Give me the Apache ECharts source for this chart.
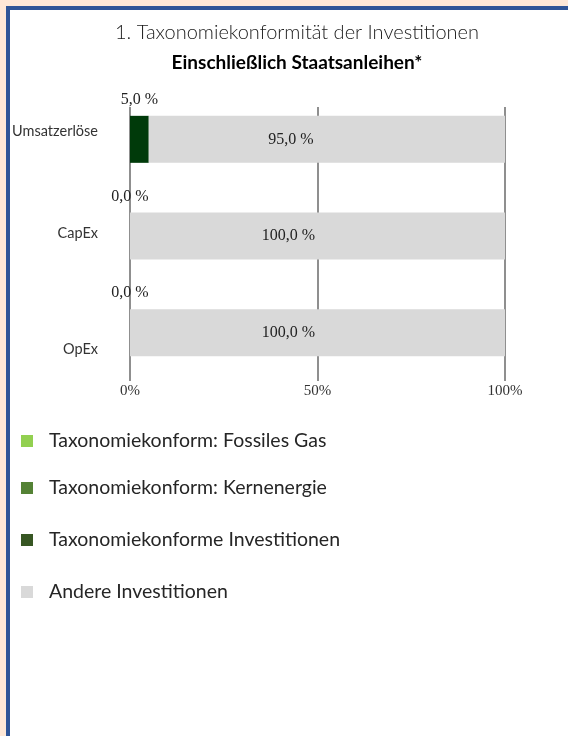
<!DOCTYPE html>
<html>
<head>
<meta charset="utf-8">
<script src="https://cdn.jsdelivr.net/npm/echarts@6/dist/echarts.min.js"></script>
<style>
html,body{margin:0;padding:0;background:#fff;}
#peachL{position:absolute;left:0;top:0;width:6px;height:736px;background:#fee8d7;}
#peachT{position:absolute;left:0;top:0;width:568px;height:6px;background:#fee8d7;}
#blueL{position:absolute;left:6px;top:6px;width:4px;height:730px;background:#2f5597;}
#blueT{position:absolute;left:6px;top:6px;width:562px;height:4px;background:#2f5597;}
#chart{position:absolute;left:0;top:0;width:568px;height:736px;}
</style>
</head>
<body>
<div id="peachL"></div><div id="peachT"></div><div id="blueL"></div><div id="blueT"></div>
<div id="chart"></div>
<script>
const categories = ['Umsatzerlöse', 'CapEx', 'OpEx'];
const seriesNames = ['Taxonomiekonform: Fossiles Gas', 'Taxonomiekonform: Kernenergie', 'Taxonomiekonforme Investitionen', 'Andere Investitionen'];
const fossilGas = [0, 0, 0];
const nuclear = [0, 0, 0];
const aligned = [5.0, 0.0, 0.0];
const other = [95.0, 100.0, 100.0];
const xTicks = [0, 50, 100];

const fmt = v => v.toFixed(1).replace('.', ',') + ' %';
const serif = 'Liberation Serif';
const sans = 'Lato';

const chart = echarts.init(document.getElementById('chart'), null, {renderer: 'canvas'});

const legendTops = [431, 478, 530, 582];

chart.setOption({
  backgroundColor: 'transparent',
  animation: false,
  title: [
    {text: '1. Taxonomiekonformität der Investitionen', left: 292, textAlign: 'center', top: 18,
     textStyle: {fontFamily: sans, fontWeight: 300, fontSize: 20, color: '#1a1a1a'}},
    {text: 'Einschließlich Staatsanleihen*', left: 292, textAlign: 'center', top: 48,
     textStyle: {fontFamily: sans, fontWeight: 'bold', fontSize: 19, color: '#000'}}
  ],
  legend: seriesNames.map((n, i) => ({
    data: [n], left: 21, top: legendTops[i], orient: 'vertical', padding: 0,
    itemWidth: 12, itemHeight: 12, icon: 'rect',
    textStyle: {fontFamily: sans, fontSize: 19.5, color: '#262626', padding: [0, 0, 0, 11]}
  })),
  grid: [
    {left: 130, right: 63, top: 91, bottom: 355},
    {left: 130, right: 63, top: 107, bottom: 355}
  ],
  xAxis: [
    {gridIndex: 0, type: 'value', min: 0, max: 100, show: false},
    {gridIndex: 1, type: 'value', min: 0, max: 100, interval: 50,
     axisLine: {show: false}, axisTick: {show: false},
     splitLine: {show: true, lineStyle: {color: '#8f8f8f', width: 2}},
     axisLabel: {formatter: v => xTicks.includes(v) ? v + '%' : '', margin: 3,
                 fontFamily: serif, fontSize: 15, color: '#333'}}
  ],
  yAxis: [
    {gridIndex: 0, type: 'category', data: categories, inverse: true,
     axisLine: {show: false}, axisTick: {show: false}, splitLine: {show: false},
     axisLabel: {margin: 32, fontFamily: sans, fontSize: 14.5, color: '#333',
       formatter: (v, i) => '{c' + i + '|' + v + '}',
       rich: {
         c0: {fontFamily: sans, fontSize: 14.5, color: '#333', padding: [0, 0, 16, 0]},
         c1: {fontFamily: sans, fontSize: 14.5, color: '#333', padding: [0, 0, 6, 0]},
         c2: {fontFamily: sans, fontSize: 14.5, color: '#333', padding: [34, 0, 0, 0]}
       }}},
    {gridIndex: 1, type: 'category', data: [''], show: false}
  ],
  series: [
    {name: seriesNames[0], type: 'bar', stack: 't', xAxisIndex: 0, yAxisIndex: 0, barWidth: 47,
     data: fossilGas, itemStyle: {color: '#92d050'}, label: {show: false}},
    {name: seriesNames[1], type: 'bar', stack: 't', xAxisIndex: 0, yAxisIndex: 0, barWidth: 47,
     data: nuclear, itemStyle: {color: '#548235'}, label: {show: false}},
    {name: seriesNames[2], type: 'bar', stack: 't', xAxisIndex: 0, yAxisIndex: 0, barWidth: 47,
     data: aligned.map(v => ({value: v, itemStyle: {color: '#003a0a'}})),
     itemStyle: {color: '#375623'},
     label: {show: true, position: 'top', distance: 8, formatter: p => fmt(p.value),
             fontFamily: serif, fontSize: 16, color: '#222'}},
    {name: seriesNames[3], type: 'bar', stack: 't', xAxisIndex: 0, yAxisIndex: 0, barWidth: 47,
     data: other.map((v, i) => ({value: v, label: {offset: [i === 0 ? -36 : -29, 0]}})),
     itemStyle: {color: '#d9d9d9'},
     label: {show: true, position: 'inside', formatter: p => fmt(p.value),
             fontFamily: serif, fontSize: 16, color: '#222'}}
  ]
});
</script>
</body>
</html>
